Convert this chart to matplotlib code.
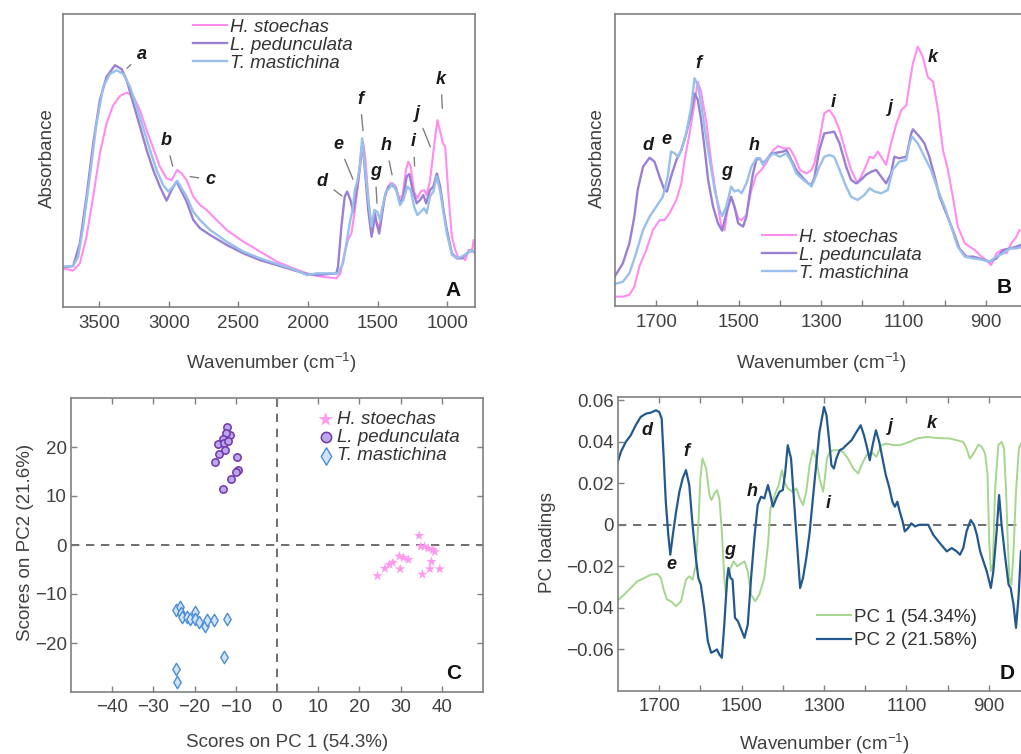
import matplotlib
matplotlib.use('Agg')
import matplotlib.pyplot as plt

plt.rcParams['font.family'] = ['Liberation Sans', 'DejaVu Sans']
plt.rcParams['mathtext.fontset'] = 'custom'
plt.rcParams['mathtext.rm'] = 'Liberation Sans'
plt.rcParams['mathtext.it'] = 'Liberation Sans:italic'

# ---------------- panel A: full FTIR spectra ----------------
A_HS_WN = [3759, 3687, 3639, 3591, 3543, 3495, 3447, 3399, 3351, 3303, 3255, 3207, 3159, 3112, 3064, 3016,
           2980, 2939, 2908, 2872, 2824, 2776, 2728, 2656, 2584, 2464, 2344, 2224, 2104, 2008, 1912,
           1796, 1767, 1743, 1712, 1688, 1663, 1639, 1623, 1603, 1587, 1563, 1538, 1519, 1502, 1483, 1459,
           1435, 1406, 1375, 1344, 1320, 1296, 1279, 1262, 1238, 1214, 1190, 1166, 1147, 1123, 1103, 1087,
           1070, 1050, 1031, 1014, 990, 966, 942, 918, 894, 870, 846, 822, 810, 793]
A_HS = [0.132, 0.124, 0.149, 0.240, 0.377, 0.525, 0.627, 0.689, 0.720, 0.732, 0.720, 0.672, 0.604, 0.542,
        0.479, 0.439, 0.433, 0.468, 0.456, 0.433, 0.377, 0.348, 0.331, 0.297, 0.263, 0.223, 0.189, 0.155,
        0.132, 0.115, 0.104,
        0.098, 0.115, 0.172, 0.229, 0.251, 0.331, 0.422, 0.490, 0.559, 0.502, 0.354, 0.251, 0.297, 0.286,
        0.269, 0.354, 0.399, 0.424, 0.416, 0.371, 0.382, 0.468, 0.496, 0.479, 0.394, 0.371, 0.394, 0.399,
        0.382, 0.433, 0.513, 0.576, 0.638, 0.598, 0.559, 0.547, 0.377, 0.240, 0.195, 0.166, 0.172, 0.160,
        0.195, 0.189, 0.229, 0.183]

A_LP_WN = [3759, 3687, 3639, 3591, 3543, 3495, 3447, 3387, 3339, 3303, 3255, 3207, 3159, 3112, 3064, 3016,
           2980, 2944, 2908, 2872, 2824, 2776, 2704, 2584, 2464, 2344, 2224, 2104, 2008, 1936,
           1796, 1784, 1760, 1736, 1719, 1695, 1675, 1656, 1639, 1623, 1608, 1591, 1567, 1543, 1519, 1507,
           1488, 1471, 1447, 1423, 1399, 1368, 1339, 1315, 1291, 1272, 1248, 1219, 1195, 1171, 1151, 1123,
           1099, 1074, 1050, 1026, 1002, 966, 930, 894, 858, 822, 798]
A_LP = [0.135, 0.140, 0.217, 0.377, 0.559, 0.707, 0.786, 0.825, 0.812, 0.775, 0.695, 0.616, 0.536, 0.468,
        0.411, 0.363, 0.399, 0.428, 0.394, 0.360, 0.297, 0.269, 0.246, 0.212, 0.183, 0.160, 0.143, 0.126,
        0.112, 0.109,
        0.115, 0.138, 0.274, 0.377, 0.394, 0.365, 0.325, 0.377, 0.433, 0.502, 0.564, 0.468, 0.331, 0.240,
        0.320, 0.286, 0.251, 0.308, 0.377, 0.411, 0.416, 0.405, 0.354, 0.377, 0.445, 0.454, 0.399, 0.354,
        0.365, 0.382, 0.354, 0.399, 0.411, 0.456, 0.411, 0.331, 0.263, 0.183, 0.166, 0.166, 0.183, 0.195,
        0.183]

A_TM_WN = [3759, 3687, 3651, 3615, 3567, 3519, 3471, 3423, 3375, 3327, 3279, 3231, 3183, 3135, 3088, 3040,
           3004, 2968, 2939, 2908, 2872, 2824, 2776, 2704, 2584, 2464, 2344, 2224, 2104, 2008, 1936,
           1784, 1748, 1724, 1700, 1680, 1663, 1647, 1627, 1611, 1591, 1567, 1543, 1524, 1502, 1483, 1464,
           1440, 1416, 1392, 1363, 1339, 1315, 1286, 1262, 1238, 1214, 1190, 1166, 1147, 1123, 1099, 1074,
           1050, 1026, 1002, 966, 930, 894, 858, 822, 798]
A_TM = [0.138, 0.140, 0.172, 0.274, 0.445, 0.627, 0.752, 0.795, 0.808, 0.795, 0.752, 0.684, 0.610, 0.536,
        0.468, 0.416, 0.394, 0.411, 0.431, 0.405, 0.377, 0.325, 0.297, 0.263, 0.223, 0.189, 0.166, 0.147,
        0.129, 0.109, 0.115,
        0.115, 0.149, 0.217, 0.286, 0.331, 0.399, 0.428, 0.479, 0.576, 0.479, 0.365, 0.274, 0.331, 0.325,
        0.297, 0.343, 0.394, 0.405, 0.422, 0.394, 0.348, 0.365, 0.411, 0.399, 0.343, 0.314, 0.325, 0.337,
        0.320, 0.377, 0.394, 0.445, 0.394, 0.320, 0.251, 0.178, 0.166, 0.172, 0.183, 0.195, 0.183]

# ---------------- panel B: fingerprint region ----------------
B_HS_WN = [1801, 1781, 1765, 1753, 1741, 1724, 1708, 1692, 1680, 1668, 1651, 1639, 1631, 1619, 1607, 1599,
           1591, 1578, 1566, 1554, 1542, 1534, 1526, 1518, 1510, 1501, 1493, 1481, 1469, 1457, 1445, 1433,
           1416, 1404, 1392, 1376, 1364, 1351, 1335, 1323,
           1316, 1304, 1292, 1280, 1268, 1255, 1239, 1227, 1211, 1195, 1182, 1173, 1162, 1152, 1142, 1130,
           1118, 1105, 1093, 1085, 1077, 1065, 1053, 1041, 1028, 1016, 1004, 992, 980, 968, 951, 939, 927,
           915, 899, 887, 874, 862, 850, 838, 826, 818]
B_HS = [0.032, 0.032, 0.038, 0.066, 0.135, 0.192, 0.260, 0.294, 0.294, 0.317, 0.363, 0.420, 0.500, 0.591,
        0.694, 0.768, 0.734, 0.626, 0.489, 0.374, 0.272, 0.260, 0.340, 0.374, 0.340, 0.300, 0.294, 0.312,
        0.397, 0.449, 0.466, 0.489, 0.534, 0.548, 0.540, 0.540, 0.511, 0.466, 0.454, 0.466,
        0.489, 0.568, 0.660, 0.671, 0.648, 0.603, 0.523, 0.466, 0.420, 0.466, 0.511, 0.506, 0.529, 0.506,
        0.483, 0.557, 0.620, 0.671, 0.688, 0.763, 0.831, 0.888, 0.854, 0.785, 0.768, 0.671, 0.534, 0.466,
        0.374, 0.272, 0.215, 0.203, 0.192, 0.175, 0.157, 0.140, 0.180, 0.192, 0.180, 0.215, 0.237, 0.260]

B_LP_WN = [1801, 1781, 1765, 1753, 1745, 1732, 1716, 1704, 1692, 1680, 1674, 1664, 1651, 1639, 1627, 1615,
           1607, 1599, 1591, 1582, 1574, 1562, 1550, 1540, 1530, 1518, 1510, 1501, 1489, 1481, 1473, 1465,
           1457, 1449, 1441, 1433, 1420, 1408, 1392, 1384, 1372, 1360, 1343, 1331, 1323,
           1316, 1304, 1292, 1280, 1268, 1255, 1239, 1227, 1215, 1203, 1191, 1178, 1166, 1154, 1142, 1130,
           1122, 1110, 1093, 1081, 1077, 1061, 1049, 1037, 1024, 1012, 996, 980, 964, 947, 931, 915, 891,
           874, 858, 842, 826, 815]
B_LP = [0.100, 0.146, 0.215, 0.306, 0.397, 0.477, 0.508, 0.494, 0.443, 0.397, 0.392, 0.443, 0.500, 0.534,
        0.591, 0.660, 0.728, 0.706, 0.637, 0.534, 0.432, 0.340, 0.283, 0.258, 0.317, 0.374, 0.340, 0.283,
        0.272, 0.306, 0.386, 0.454, 0.500, 0.506, 0.489, 0.500, 0.523, 0.525, 0.529, 0.534, 0.500, 0.466,
        0.437, 0.420, 0.415,
        0.440, 0.534, 0.591, 0.594, 0.597, 0.557, 0.477, 0.432, 0.420, 0.432, 0.449, 0.460, 0.466, 0.443,
        0.420, 0.454, 0.511, 0.506, 0.511, 0.591, 0.605, 0.580, 0.557, 0.511, 0.443, 0.374, 0.317, 0.260,
        0.197, 0.169, 0.169, 0.163, 0.152, 0.163, 0.192, 0.197, 0.203, 0.209]

B_TM_WN = [1801, 1781, 1765, 1749, 1732, 1716, 1700, 1684, 1672, 1664, 1655, 1647, 1639, 1627, 1615, 1607,
           1599, 1591, 1582, 1570, 1558, 1546, 1540, 1530, 1518, 1510, 1501, 1493, 1481, 1469, 1457, 1449,
           1441, 1433, 1416, 1400, 1384, 1372, 1360, 1343, 1331, 1323,
           1316, 1304, 1292, 1280, 1268, 1255, 1239, 1227, 1211, 1195, 1182, 1170, 1154, 1138, 1126, 1110,
           1093, 1085, 1079, 1065, 1049, 1033, 1016, 1000, 984, 968, 951, 931, 915, 891, 874, 858, 842, 826,
           815]
B_TM = [0.075, 0.083, 0.112, 0.180, 0.260, 0.306, 0.340, 0.374, 0.443, 0.529, 0.523, 0.511, 0.534, 0.591,
        0.683, 0.780, 0.757, 0.694, 0.603, 0.500, 0.397, 0.329, 0.308, 0.340, 0.409, 0.392, 0.397, 0.386,
        0.420, 0.477, 0.506, 0.506, 0.483, 0.500, 0.523, 0.511, 0.523, 0.494, 0.454, 0.432, 0.420, 0.409,
        0.432, 0.477, 0.511, 0.517, 0.511, 0.466, 0.409, 0.374, 0.363, 0.380, 0.403, 0.392, 0.386, 0.397,
        0.466, 0.494, 0.500, 0.557, 0.580, 0.557, 0.511, 0.466, 0.397, 0.340, 0.272, 0.203, 0.169, 0.163,
        0.160, 0.152, 0.169, 0.180, 0.197, 0.197, 0.201]

# ---------------- panel C: PCA scores ----------------
C_HS_X = [34.5, 34.9, 35.8, 36.7, 37.9, 38.3, 37.5, 37.1, 39.5, 35.3, 29.7, 30.7, 31.9, 29.9, 28.1, 27.3,
          26.2, 24.4]
C_HS_Y = [1.9, -0.3, -0.3, -0.7, -1.0, -1.4, -3.4, -4.9, -4.9, -6.0, -2.3, -2.6, -3.0, -4.9, -3.6, -4.0,
          -4.8, -6.3]
C_LP_X = [-12.1, -11.3, -12.5, -13.1, -14.3, -12.9, -12.6, -14.1, -15.1, -9.8, -9.5, -10.0, -11.1, -13.1,
          -11.8]
C_LP_Y = [24.1, 22.5, 22.8, 21.6, 20.6, 20.8, 19.4, 18.6, 17.0, 17.9, 15.3, 14.8, 13.4, 11.5, 21.3]
C_TM_X = [-24.4, -23.6, -23.4, -23.0, -21.8, -21.0, -19.8, -20.0, -19.0, -17.4, -16.9, -15.3, -12.1, -12.9,
          -24.6, -24.2]
C_TM_Y = [-13.2, -12.7, -13.9, -14.6, -14.6, -15.0, -13.7, -15.0, -15.8, -16.5, -15.3, -15.3, -15.1, -22.8,
          -25.4, -28.0]

# ---------------- panel D: PC loadings ----------------
D_PC1_WN = [1803, 1785, 1769, 1753, 1736, 1720, 1704, 1696, 1688, 1681, 1672, 1659, 1647, 1635, 1627, 1619,
            1611, 1605, 1600, 1595, 1586, 1578, 1573, 1566, 1560, 1554, 1548, 1542, 1538, 1534, 1527, 1519,
            1511, 1505, 1493, 1485, 1477, 1467, 1457, 1445, 1436, 1430, 1420, 1410, 1402, 1396, 1388, 1376,
            1367, 1359, 1351, 1343, 1335, 1327,
            1319, 1311, 1302, 1298, 1293, 1286, 1278, 1266, 1254, 1242, 1229, 1217, 1209, 1197, 1185, 1173,
            1161, 1148, 1132, 1116, 1104, 1092, 1075, 1051, 1027, 994, 962, 954, 946, 937, 925, 917, 909,
            903, 899, 895, 890, 885, 877, 869, 863, 858, 854, 850, 845, 840, 834, 827, 822]
D_PC1 = [-0.0368, -0.0336, -0.0304, -0.0272, -0.0256, -0.0240, -0.0237, -0.0256, -0.0320, -0.0360, -0.0368,
         -0.0392, -0.0368, -0.0264, -0.0248, -0.0264, -0.0192, 0.0000, 0.0223, 0.0319, 0.0271, 0.0143,
         0.0119, 0.0151, 0.0167, 0.0127, -0.0032, -0.0256, -0.0336, -0.0256, -0.0208, -0.0176, -0.0200,
         -0.0192, -0.0176, -0.0224, -0.0336, -0.0368, -0.0336, -0.0256, -0.0096, 0.0079, 0.0143, 0.0191,
         0.0263, 0.0207, 0.0175, 0.0159, 0.0175, 0.0127, 0.0095, 0.0159, 0.0287, 0.0359,
         0.0319, 0.0223, 0.0159, 0.0223, 0.0319, 0.0351, 0.0359, 0.0359, 0.0351, 0.0319, 0.0271, 0.0247,
         0.0287, 0.0335, 0.0351, 0.0327, 0.0383, 0.0391, 0.0383, 0.0383, 0.0391, 0.0399, 0.0415, 0.0423,
         0.0418, 0.0415, 0.0399, 0.0367, 0.0319, 0.0343, 0.0386, 0.0375, 0.0343, 0.0239, -0.0080, -0.0224,
         -0.0192, 0.0159, 0.0383, 0.0399, 0.0367, 0.0159, -0.0080, -0.0256, -0.0288, -0.0128, 0.0159,
         0.0367, 0.0391]

D_PC2_WN = [1803, 1793, 1781, 1769, 1757, 1745, 1732, 1720, 1708, 1700, 1694, 1689, 1684, 1678, 1673, 1668,
            1659, 1651, 1643, 1635, 1627, 1619, 1611, 1605, 1599, 1591, 1582, 1574, 1566, 1560, 1554, 1548,
            1542, 1535, 1532, 1527, 1522, 1516, 1509, 1501, 1493, 1485, 1477, 1469, 1461, 1453, 1445, 1436,
            1430, 1424, 1416, 1408, 1400, 1394, 1388, 1380, 1372, 1363, 1358, 1351, 1343, 1335,
            1327, 1319, 1311, 1300, 1294, 1288, 1282, 1276, 1270, 1262, 1254, 1246, 1233, 1221, 1211, 1203,
            1195, 1189, 1182, 1174, 1166, 1158, 1150, 1142, 1134, 1128, 1122, 1116, 1109, 1104, 1096, 1088,
            1079, 1069, 1059, 1047, 1035, 1019, 1002, 990, 978, 970, 962, 954, 944, 936, 929, 921, 913, 905,
            895, 889, 881, 875, 869, 860, 852, 847, 840, 834, 828, 822]
D_PC2 = [0.0287, 0.0351, 0.0399, 0.0431, 0.0479, 0.0519, 0.0535, 0.0540, 0.0551, 0.0543, 0.0511, 0.0319,
         0.0111, -0.0048, -0.0144, -0.0064, 0.0063, 0.0159, 0.0223, 0.0263, 0.0191, 0.0000, -0.0160,
         -0.0256, -0.0288, -0.0400, -0.0560, -0.0616, -0.0608, -0.0600, -0.0624, -0.0640, -0.0480, -0.0256,
         -0.0208, -0.0256, -0.0264, -0.0448, -0.0464, -0.0504, -0.0544, -0.0480, -0.0256, -0.0064, 0.0095,
         0.0135, 0.0127, 0.0191, 0.0143, 0.0087, 0.0127, 0.0159, 0.0167, 0.0255, 0.0383, 0.0319, 0.0095,
         -0.0160, -0.0304, -0.0256, -0.0160, -0.0040,
         0.0127, 0.0287, 0.0447, 0.0567, 0.0527, 0.0415, 0.0287, 0.0271, 0.0319, 0.0359, 0.0367, 0.0383,
         0.0407, 0.0447, 0.0479, 0.0431, 0.0367, 0.0311, 0.0383, 0.0455, 0.0399, 0.0319, 0.0239, 0.0183,
         0.0111, 0.0087, 0.0111, 0.0063, 0.0015, -0.0032, -0.0016, 0.0007, -0.0008, 0.0000, 0.0000, 0.0000,
         -0.0048, -0.0088, -0.0128, -0.0112, -0.0128, -0.0144, -0.0112, -0.0032, 0.0023, 0.0000, -0.0048,
         -0.0128, -0.0176, -0.0224, -0.0304, -0.0224, -0.0032, 0.0143, 0.0000, -0.0160, -0.0288, -0.0304,
         -0.0384, -0.0496, -0.0352, -0.0128]

SPECIES = ['H. stoechas', 'L. pedunculata', 'T. mastichina']
PC_LABELS = ['PC 1 (54.34%)', 'PC 2 (21.58%)']
D_YTICKS = [-0.06, -0.04, -0.02, 0, 0.02, 0.04, 0.06]
D_YTICKLABELS = ['\u22120.06', '\u22120.04', '\u22120.02', '0', '0.02', '0.04', '0.06']

# peak labels: letter, text position, leader end (panel A only)
A_PEAKS = [('a', 3195, 0.862, 3300, 0.815), ('b', 3020, 0.568, 2972, 0.481), ('c', 2699, 0.435, 2847, 0.445),
           ('d', 1896, 0.430, 1756, 0.379), ('e', 1781, 0.556, 1677, 0.436), ('f', 1625, 0.709, 1605, 0.602),
           ('g', 1517, 0.462, 1504, 0.354), ('h', 1440, 0.551, 1396, 0.451), ('i', 1241, 0.564, 1234, 0.481),
           ('j', 1217, 0.661, 1121, 0.547), ('k', 1044, 0.777, 1035, 0.678)]
B_PEAKS = [('d', 1720, 0.549), ('e', 1674, 0.571), ('f', 1597, 0.831), ('g', 1530, 0.460), ('h', 1461, 0.549),
           ('i', 1271, 0.696), ('j', 1131, 0.680), ('k', 1030, 0.852)]
D_PEAKS = [('d', 1729, 0.0452), ('f', 1634, 0.0352), ('e', 1670, -0.0189), ('g', 1529, -0.0125),
           ('h', 1474, 0.0160), ('i', 1289, 0.0104), ('j', 1139, 0.0471), ('k', 1038, 0.0487)]

PINK = '#ff8cf0'
PURPLE = '#9a80d2'
LBLUE = '#98c0ea'
GREEN = '#a5d68e'
NAVY = '#23598f'
SPINE = '#808080'
TXT = '#404040'
FS = 13.5


def style(ax):
    for s in ax.spines.values():
        s.set_color(SPINE)
        s.set_linewidth(1.2)
    ax.tick_params(which='both', direction='in', colors=SPINE, labelcolor=TXT, labelsize=FS,
                   length=4, width=1)


def peak_text(ax, letter, x, y):
    ax.text(x, y, letter, fontsize=13, fontweight='bold', style='italic', color='#1a1a1a',
            ha='center', va='center')


fig = plt.figure(figsize=(10.21, 7.54), dpi=100)
W, H = 1021.0, 754.0
axA = fig.add_axes([63 / W, 1 - 307 / H, 412 / W, 293 / H])
axB = fig.add_axes([615 / W, 1 - 306 / H, 412 / W, 292 / H])
axC = fig.add_axes([71 / W, 1 - 692 / H, 412 / W, 294 / H])
axD = fig.add_axes([618 / W, 1 - 691 / H, 412 / W, 294 / H])

# ---- A ----
style(axA)
axA.plot(A_HS_WN, A_HS, color=PINK, lw=1.5, label=SPECIES[0])
axA.plot(A_LP_WN, A_LP, color=PURPLE, lw=1.7, label=SPECIES[1])
axA.plot(A_TM_WN, A_TM, color=LBLUE, lw=1.7, label=SPECIES[2])
axA.set_xlim(3760, 800)
axA.set_ylim(0, 1)
axA.set_xticks([3500, 3000, 2500, 2000, 1500, 1000])
axA.tick_params(axis='y', left=False, labelleft=False)
axA.tick_params(axis='x', pad=6)
axA.set_xlabel('Wavenumber (cm$^{-1}$)', fontsize=FS, color=TXT)
axA.set_ylabel('Absorbance', fontsize=FS, color=TXT)
axA.xaxis.set_label_coords(0.505, -0.15)
axA.yaxis.set_label_coords(-0.018, 0.508)
for let, tx, ty, px, py in A_PEAKS:
    axA.annotate(let, xy=(px, py), xytext=(tx, ty), fontsize=13, fontweight='bold', style='italic',
                 color='#1a1a1a', ha='center', va='center',
                 arrowprops=dict(arrowstyle='-', color='#808080', lw=1, shrinkA=3, shrinkB=0))
leg = axA.legend(loc='upper left', bbox_to_anchor=(0.316, 0.985), frameon=False, borderpad=0,
                 borderaxespad=0, handlelength=1.8, handletextpad=0.15, labelspacing=0.05,
                 prop={'style': 'italic', 'size': FS})
for t in leg.get_texts():
    t.set_color('#333333')
axA.text(0.946, 0.058, 'A', transform=axA.transAxes, fontsize=15, fontweight='bold', color='#111111',
         ha='center', va='center')

# ---- B ----
style(axB)
axB.plot(B_HS_WN, B_HS, color=PINK, lw=1.5, label=SPECIES[0])
axB.plot(B_LP_WN, B_LP, color=PURPLE, lw=1.7, label=SPECIES[1])
axB.plot(B_TM_WN, B_TM, color=LBLUE, lw=1.7, label=SPECIES[2])
axB.set_xlim(1800, 800)
axB.set_ylim(0, 1)
axB.set_xticks([1700, 1500, 1300, 1100, 900])
axB.set_xticks([1600, 1400, 1200, 1000, 800], minor=True)
axB.tick_params(axis='y', which='both', left=False, labelleft=False)
axB.tick_params(axis='x', pad=6)
axB.set_xlabel('Wavenumber (cm$^{-1}$)', fontsize=FS, color=TXT)
axB.set_ylabel('Absorbance', fontsize=FS, color=TXT)
axB.xaxis.set_label_coords(0.502, -0.154)
axB.yaxis.set_label_coords(-0.0225, 0.507)
for let, tx, ty in B_PEAKS:
    peak_text(axB, let, tx, ty)
leg = axB.legend(loc='upper left', bbox_to_anchor=(0.357, 0.265), frameon=False, borderpad=0,
                 borderaxespad=0, handlelength=1.8, handletextpad=0.15, labelspacing=0.05,
                 prop={'style': 'italic', 'size': FS})
for t in leg.get_texts():
    t.set_color('#333333')
axB.text(0.944, 0.064, 'B', transform=axB.transAxes, fontsize=15, fontweight='bold', color='#111111',
         ha='center', va='center')

# ---- C ----
style(axC)
axC.axhline(0, color='#555555', lw=1.2, ls=(0, (5, 4)), zorder=1)
axC.axvline(0, color='#555555', lw=1.2, ls=(0, (5, 4)), zorder=1)
axC.scatter(C_HS_X, C_HS_Y, marker='*', s=60, color='#ff99ee', edgecolors='none', label=SPECIES[0], zorder=3)
axC.scatter(C_LP_X, C_LP_Y, marker='o', s=28, facecolors='#baa8ec', edgecolors='#7434ad', linewidths=1.1,
            label=SPECIES[1], zorder=3)
axC.scatter(C_TM_X, C_TM_Y, marker='d', s=40, facecolors='#d2e4f7', edgecolors='#4b8cd4', linewidths=1.0,
            label=SPECIES[2], zorder=3)
axC.set_xlim(-50, 50)
axC.set_ylim(-30, 30)
axC.set_xticks([-40, -30, -20, -10, 0, 10, 20, 30, 40])
axC.set_yticks([-20, -10, 0, 10, 20])
axC.tick_params(top=True, right=True)
axC.tick_params(axis='x', pad=5)
axC.tick_params(axis='y', pad=3)
axC.set_xlabel('Scores on PC 1 (54.3%)', fontsize=FS, color=TXT)
axC.set_ylabel('Scores on PC2 (21.6%)', fontsize=FS, color=TXT)
axC.xaxis.set_label_coords(0.525, -0.143)
axC.yaxis.set_label_coords(-0.09, 0.508)
leg = axC.legend(loc='upper left', bbox_to_anchor=(0.6, 0.955), frameon=False, borderpad=0, borderaxespad=0,
                 handlelength=0.8, handletextpad=0.2, labelspacing=0.05, scatterpoints=1, markerscale=1.4,
                 prop={'style': 'italic', 'size': FS})
for t in leg.get_texts():
    t.set_color('#333333')
axC.text(0.928, 0.064, 'C', transform=axC.transAxes, fontsize=15, fontweight='bold', color='#111111',
         ha='center', va='center')

# ---- D ----
style(axD)
axD.axhline(0, color='#555555', lw=1.2, ls=(0, (5, 4)), zorder=1)
axD.plot(D_PC1_WN, D_PC1, color=GREEN, lw=1.4, label=PC_LABELS[0])
axD.plot(D_PC2_WN, D_PC2, color=NAVY, lw=1.6, label=PC_LABELS[1])
axD.set_xlim(1800, 800)
axD.set_ylim(-0.08, 0.0615)
axD.set_xticks([1700, 1500, 1300, 1100, 900])
axD.set_xticks([1600, 1400, 1200, 1000, 800], minor=True)
axD.set_yticks(D_YTICKS)
axD.set_yticklabels(D_YTICKLABELS)
axD.tick_params(which='both', top=True)
axD.tick_params(axis='x', pad=5)
axD.tick_params(axis='y', pad=3)
axD.set_xlabel('Wavenumber (cm$^{-1}$)', fontsize=FS, color=TXT)
axD.set_ylabel('PC loadings', fontsize=FS, color=TXT)
axD.xaxis.set_label_coords(0.502, -0.139)
axD.yaxis.set_label_coords(-0.151, 0.505)
for let, tx, ty in D_PEAKS:
    peak_text(axD, let, tx, ty)
leg = axD.legend(loc='upper left', bbox_to_anchor=(0.483, 0.28), frameon=False, borderpad=0,
                 borderaxespad=0, handlelength=1.8, handletextpad=0.15, labelspacing=0.35,
                 prop={'size': FS})
for t in leg.get_texts():
    t.set_color('#333333')
axD.text(0.945, 0.058, 'D', transform=axD.transAxes, fontsize=15, fontweight='bold', color='#111111',
         ha='center', va='center')

fig.savefig('out.png', dpi=100)
